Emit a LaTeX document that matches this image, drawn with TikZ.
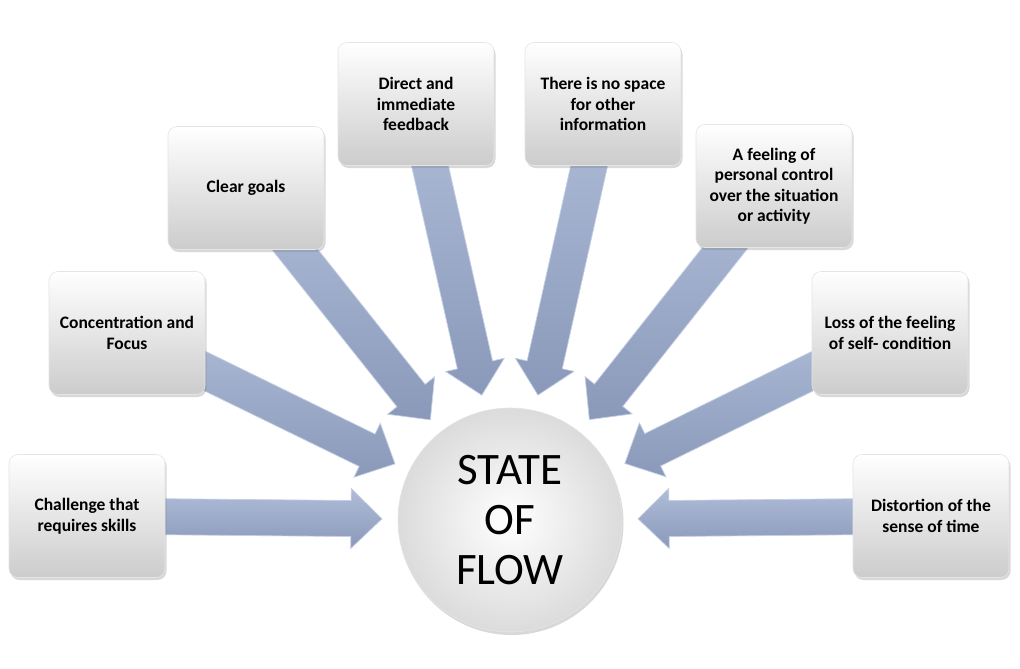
\documentclass[tikz,border=0pt]{standalone}
\usepackage{fontspec}
\setmainfont{Carlito}
\usetikzlibrary{calc,shadows,backgrounds}

\definecolor{arrowlight}{HTML}{AFBDD9}
\definecolor{arrowdark}{HTML}{8A99B9}
\definecolor{arrowedge}{HTML}{C4CFE4}

\tikzset{
  factor/.style={draw=black!10, line width=0.6pt, rounded corners=9pt,
    minimum width=156pt, minimum height=123pt, align=center,
    top color=white, bottom color=black!20,
    font=\bfseries\fontsize{17.5}{20.5}\selectfont,
    drop shadow={opacity=0.3, shadow xshift=1.5pt, shadow yshift=-2.5pt}},
  flowcircle/.style={circle, minimum size=224pt, inner sep=0pt, align=center,
    inner color=white, outer color=black!14, draw=black!10, line width=0.6pt,
    font=\fontsize{45}{50}\selectfont,
    drop shadow={opacity=0.3, shadow xshift=1.5pt, shadow yshift=-3pt}},
  blockarrow/.style={top color=arrowlight, bottom color=arrowdark,
    draw=arrowedge, line width=0.7pt, line join=miter}
}

\newcommand\flowarrow[2]{%
  \coordinate (S) at (#1.center);
  \coordinate (T) at ($(#2.center)!128pt!(#1.center)$);
  \coordinate (H) at ($(T)!31pt!(S)$);
  \path[blockarrow] ($(S)!18pt!90:(T)$) -- ($(H)!18pt!90:(T)$) -- ($(H)!30pt!90:(T)$)
    -- (T) -- ($(H)!30pt!-90:(T)$) -- ($(H)!18pt!-90:(T)$) -- ($(S)!18pt!-90:(T)$) -- cycle;
}

\begin{document}
\begin{tikzpicture}[x=1pt,y=-1pt]
\useasboundingbox (0,0) rectangle (1020,669);

\node[flowcircle] (flow) at (510,520) {STATE\\OF\\FLOW};

\node[factor] (c1) at (87,516) {Challenge that\\requires skills};
\node[factor] (c2) at (127,333) {Concentration and\\Focus};
\node[factor] (c3) at (246,188) {Clear goals};
\node[factor] (c4) at (416,104) {Direct and\\immediate\\feedback};
\node[factor] (c5) at (603,104) {There is no space\\for other\\information};
\node[factor] (c6) at (774,186) {A feeling of\\personal control\\over the situation\\or activity};
\node[factor] (c7) at (890,333) {Loss of the feeling\\of self- condition};
\node[factor] (c8) at (931,516) {Distortion of the\\sense of time};

\begin{pgfonlayer}{background}
\fill[white] (0,0) rectangle (1020,669);
\flowarrow{c1}{flow}
\flowarrow{c2}{flow}
\flowarrow{c3}{flow}
\flowarrow{c4}{flow}
\flowarrow{c5}{flow}
\flowarrow{c6}{flow}
\flowarrow{c7}{flow}
\flowarrow{c8}{flow}
\end{pgfonlayer}
\end{tikzpicture}
\end{document}
